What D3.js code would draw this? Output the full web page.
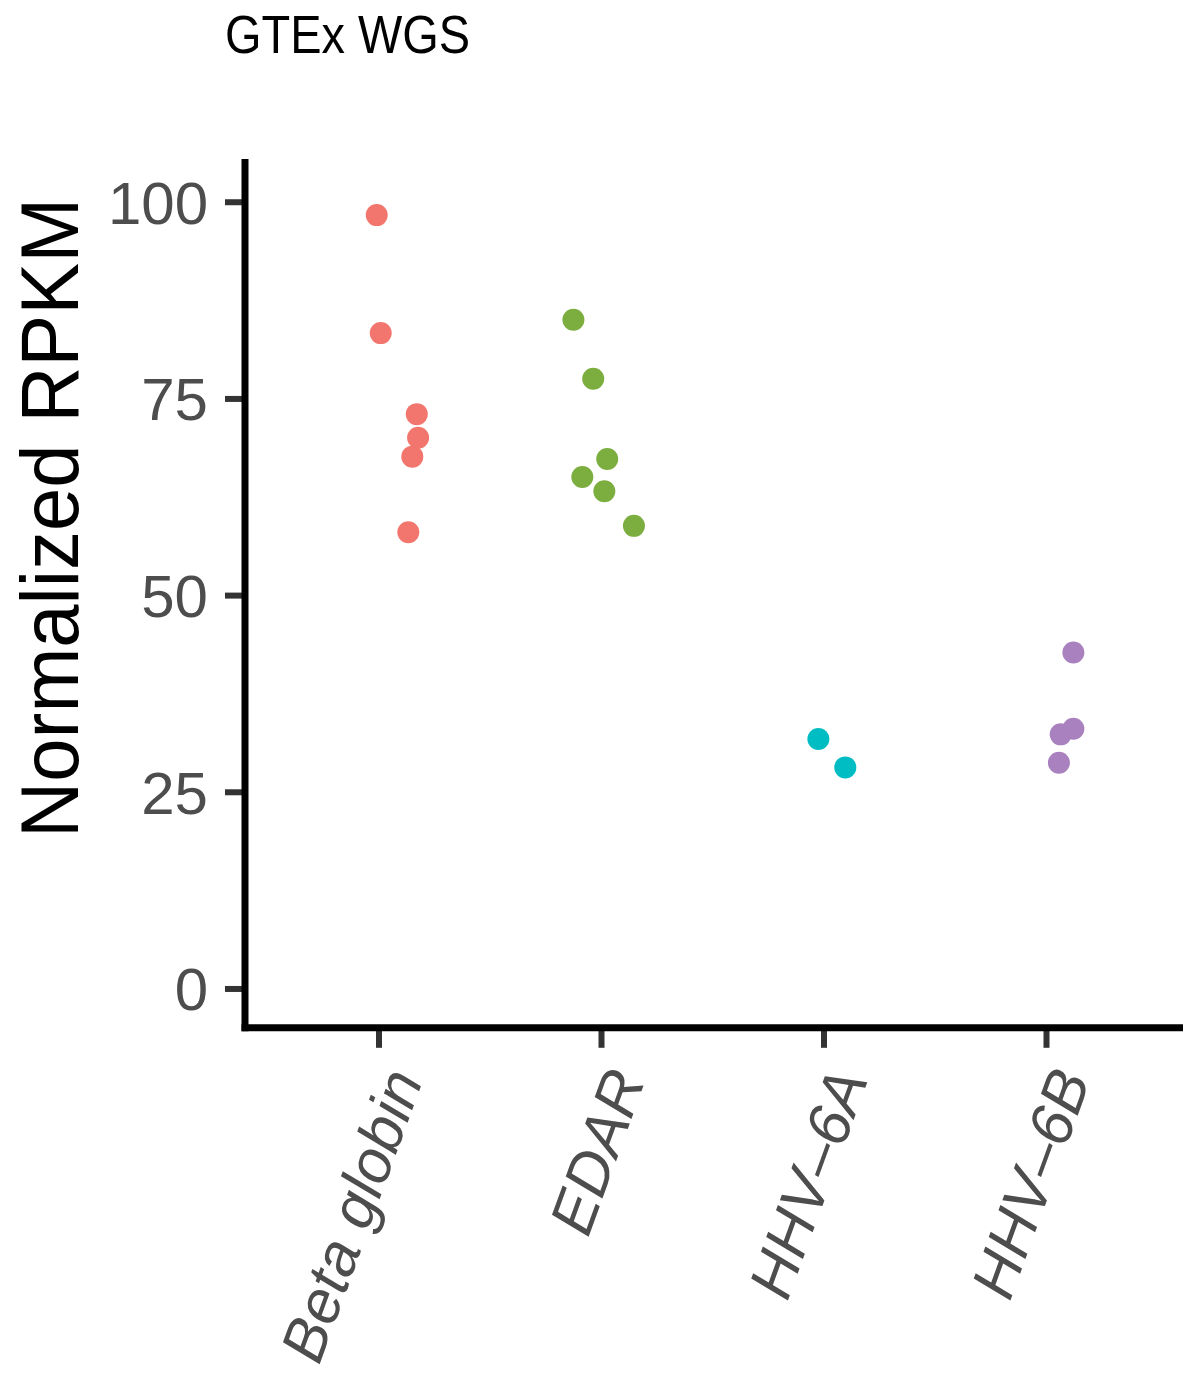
<!DOCTYPE html>
<html>
<head>
<meta charset="utf-8">
<script src="https://cdn.jsdelivr.net/npm/d3@7"></script>
<style>
  html, body { margin: 0; padding: 0; background: #fff; }
  svg { display: block; }
</style>
</head>
<body>
<svg id="chart" width="1183" height="1374"></svg>
<script>
// ---- data ----
const categories = ["Beta globin", "EDAR", "HHV\u20136A", "HHV\u20136B"];
const colors = ["#F2766E", "#7BAD3F", "#00BDC4", "#A981BE"];
const betaValues = [98.3, 83.3, 73.0, 70.0, 67.6, 58.0];
const betaJitter = [-0.008, 0.010, 0.172, 0.178, 0.152, 0.134];
const edarValues = [85.0, 77.5, 67.3, 65.0, 63.2, 58.8];
const edarJitter = [-0.124, -0.035, 0.028, -0.084, 0.015, 0.148];
const hhv6aValues = [31.7, 28.1];
const hhv6aJitter = [-0.023, 0.098];
const hhv6bValues = [42.7, 33.0, 32.3, 28.7];
const hhv6bJitter = [0.123, 0.123, 0.066, 0.058];
const yTicks = [0, 25, 50, 75, 100];
const yDomain = [-5, 105];
const titleText = "GTEx WGS";
const yTitle = "Normalized RPKM";

(function () {
const groups = [
  { cat: categories[0], values: betaValues, jitter: betaJitter, color: colors[0] },
  { cat: categories[1], values: edarValues, jitter: edarJitter, color: colors[1] },
  { cat: categories[2], values: hhv6aValues, jitter: hhv6aJitter, color: colors[2] },
  { cat: categories[3], values: hhv6bValues, jitter: hhv6bJitter, color: colors[3] }
];
const points = [];
groups.forEach(g => g.values.forEach((v, i) => points.push({ cat: g.cat, v, j: g.jitter[i], color: g.color })));

// ---- layout ----
const svg = d3.select("#chart");
const pLeft = 245, pRight = 1179.5, pTop = 162.4, pBottom = 1027.8;

const x = d3.scalePoint().domain(categories).range([pLeft, pRight]).padding(0.6);
const y = d3.scaleLinear().domain(yDomain).range([pBottom, pTop]);

// title
svg.append("text")
  .attr("x", 225).attr("y", 53)
  .attr("font-family", "'Liberation Sans', Arial, sans-serif")
  .attr("font-size", 54)
  .attr("textLength", 245)
  .attr("lengthAdjust", "spacingAndGlyphs")
  .attr("fill", "#000")
  .text(titleText);

// y axis title
svg.append("text")
  .attr("transform", `translate(78,518) rotate(-90)`)
  .attr("text-anchor", "middle")
  .attr("font-family", "'Liberation Sans', Arial, sans-serif")
  .attr("font-size", 81)
  .attr("textLength", 640)
  .attr("lengthAdjust", "spacingAndGlyphs")
  .attr("fill", "#000")
  .text(yTitle);

// y axis
const yAxis = svg.append("g")
  .attr("transform", `translate(${pLeft},0)`)
  .call(d3.axisLeft(y).tickValues(yTicks).tickSizeInner(20).tickSizeOuter(0).tickPadding(17));
yAxis.select(".domain").remove();
yAxis.selectAll(".tick line").attr("stroke", "#333").attr("stroke-width", 6);
yAxis.selectAll(".tick text")
  .attr("font-family", "'Liberation Sans', Arial, sans-serif")
  .attr("font-size", 60)
  .attr("fill", "#4d4d4d")
  .attr("dy", "0.355em");

// x axis
const xAxis = svg.append("g")
  .attr("transform", `translate(0,${pBottom})`)
  .call(d3.axisBottom(x).tickSizeInner(20).tickSizeOuter(0));
xAxis.select(".domain").remove();
xAxis.selectAll(".tick line").attr("stroke", "#333").attr("stroke-width", 6);
xAxis.selectAll(".tick text").remove();
xAxis.selectAll(".tick").append("text")
  .attr("transform", "translate(2,36) rotate(-70)")
  .attr("text-anchor", "end")
  .attr("dy", "0.74em")
  .attr("font-family", "'Liberation Sans', Arial, sans-serif")
  .attr("font-size", 61)
  .attr("font-style", "italic")
  .attr("fill", "#4d4d4d")
  .text(d => d);

// axis lines
svg.append("line")
  .attr("x1", pLeft).attr("x2", pLeft)
  .attr("y1", pTop).attr("y2", pBottom)
  .attr("stroke", "#000").attr("stroke-width", 7).attr("stroke-linecap", "square");
svg.append("line")
  .attr("x1", pLeft).attr("x2", 1183)
  .attr("y1", pBottom).attr("y2", pBottom)
  .attr("stroke", "#000").attr("stroke-width", 7).attr("stroke-linecap", "square");

// points
const step = x.step();
svg.append("g").selectAll("circle")
  .data(points)
  .join("circle")
  .attr("cx", d => x(d.cat) + d.j * step)
  .attr("cy", d => y(d.v))
  .attr("r", 11)
  .attr("fill", d => d.color);
})();
</script>
</body>
</html>
